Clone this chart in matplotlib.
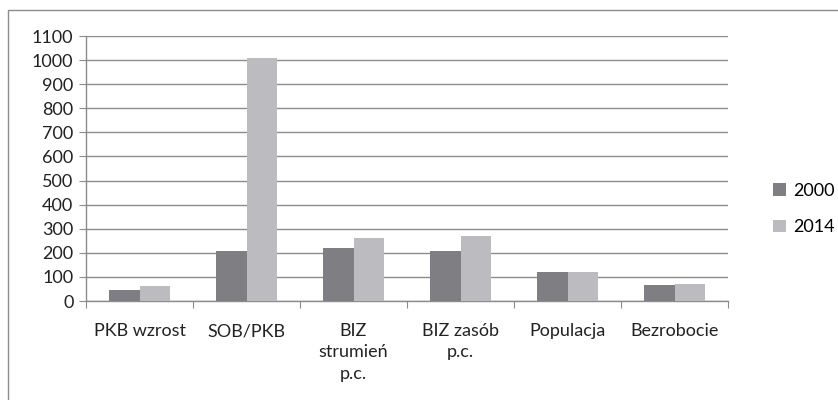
import matplotlib
matplotlib.use("Agg")
import matplotlib.pyplot as plt
import numpy as np
from matplotlib.patches import Rectangle

categories = ["PKB wzrost", "SOB/PKB", "BIZ\nstrumień\np.c.", "BIZ zasób\np.c.", "Populacja", "Bezrobocie"]
series_names = ["2000", "2014"]
values_2000 = [44, 207, 219, 209, 120, 66]
values_2014 = [63, 1010, 260, 268, 122, 70]
yticks = list(range(0, 1101, 100))

plt.rcParams['font.family'] = ['Lato', 'DejaVu Sans']

W, H = 838, 400
fig = plt.figure(figsize=(W / 100, H / 100), dpi=100)

# outer chart frame
fig.patches.append(Rectangle((8 / W, -0.1), 1.2, (H - 10) / H + 0.1, transform=fig.transFigure,
                             fill=False, edgecolor="#8c8c8c", linewidth=1.0, clip_on=False))

ax = fig.add_axes([86 / W, (H - 301) / H, (728 - 86) / W, (301 - 36) / H])

x = np.arange(len(categories))
bw = 0.285
c2000 = "#7e7e83"
c2014 = "#bcbcc0"
ax.bar(x - bw / 2, values_2000, width=bw, color=c2000, label=series_names[0], zorder=3)
ax.bar(x + bw / 2, values_2014, width=bw, color=c2014, label=series_names[1], zorder=3)

ax.set_xlim(-0.5, len(categories) - 0.5)
ax.set_ylim(0, 1100)
ax.set_yticks(yticks)
ax.set_yticklabels([str(v) for v in yticks], fontsize=13, color="#222222")
ax.yaxis.grid(True, color="#8c8c8c", linewidth=1.0, zorder=0)
ax.set_axisbelow(True)

ax.set_xticks(np.arange(-0.5, len(categories), 1.0))
ax.set_xticklabels([])
ax.set_xticks(x, minor=True)
ax.set_xticklabels(categories, minor=True, fontsize=13, color="#222222", linespacing=1.4, va="top")
ax.tick_params(axis="x", which="major", direction="out", length=5, color="#8c8c8c")
ax.tick_params(axis="x", which="minor", length=0, pad=16)
ax.tick_params(axis="y", direction="out", length=5, color="#8c8c8c", pad=4)

for s in ["top", "right"]:
    ax.spines[s].set_visible(False)
for s in ["left", "bottom"]:
    ax.spines[s].set_color("#8c8c8c")
    ax.spines[s].set_linewidth(1.0)

leg = fig.legend(loc="center left", bbox_to_anchor=(764 / W, 1 - 209 / H), frameon=False,
                 fontsize=13, handlelength=0.7, handleheight=0.7, handletextpad=0.4,
                 labelspacing=1.15, borderpad=0)

fig.savefig("out.png", dpi=100)
